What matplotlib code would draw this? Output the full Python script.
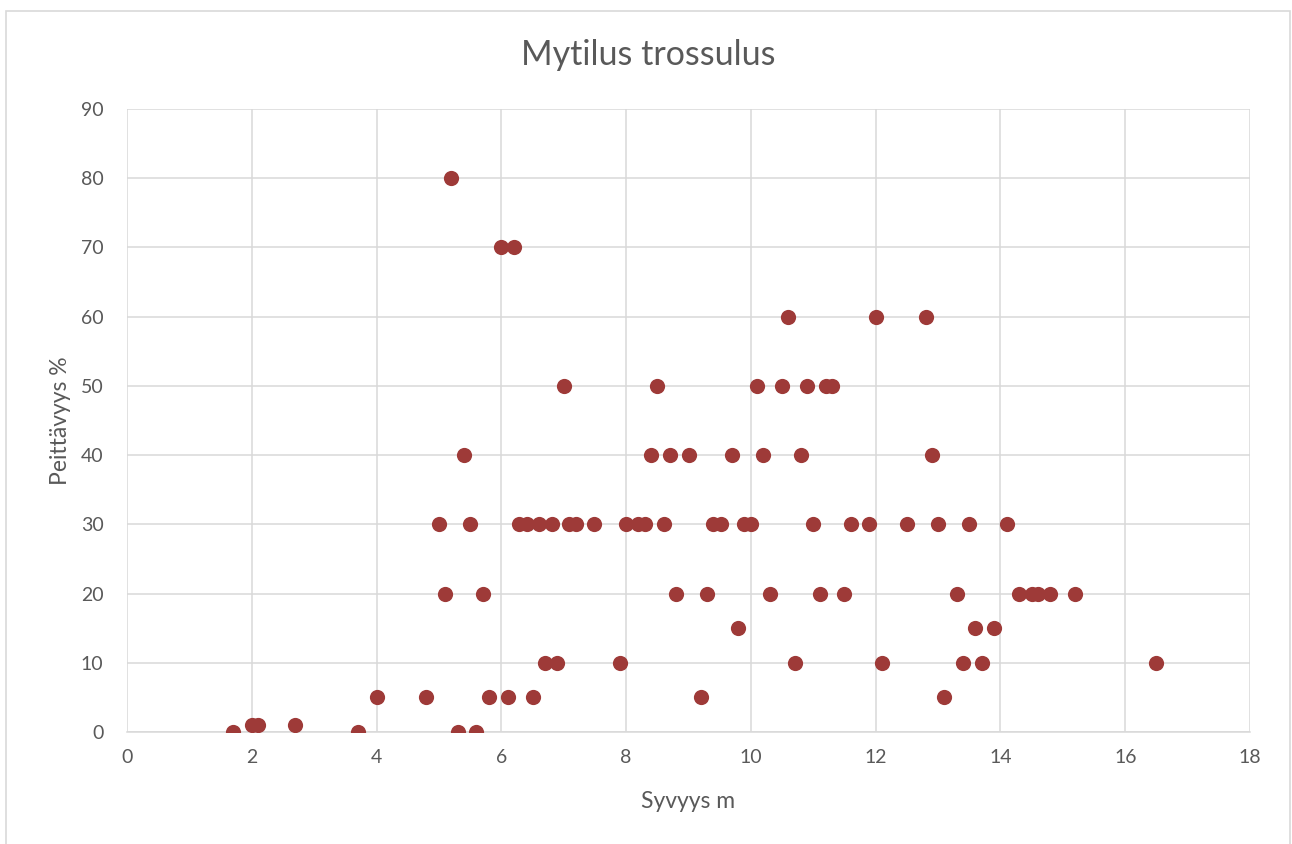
import matplotlib.pyplot as plt
from matplotlib.patches import Rectangle

# Syvyys (m) and Peittävyys (%), grouped by cover level
depth_0 = [1.7, 3.7, 5.3, 5.6]
depth_1 = [2.0, 2.1, 2.7]
depth_5 = [4.0, 4.8, 5.8, 6.1, 6.5, 9.2, 13.1]
depth_10 = [6.7, 6.9, 7.9, 10.7, 12.1, 13.4, 13.7, 16.5]
depth_15 = [9.8, 13.6, 13.9]
depth_20 = [5.1, 5.7, 8.8, 9.3, 10.3, 11.1, 11.5, 13.3, 14.3, 14.5, 14.6, 14.8, 15.2]
depth_30 = [5.0, 5.5, 6.28, 6.41, 6.6, 6.81, 7.08, 7.2, 7.49, 8.0, 8.19, 8.31, 8.6,
            9.4, 9.52, 9.89, 10.0, 11.0, 11.6, 11.9, 12.5, 13.0, 13.5, 14.1]
depth_40 = [5.4, 8.4, 8.7, 9.0, 9.7, 10.2, 10.8, 12.9]
depth_50 = [7.0, 8.5, 10.1, 10.5, 10.9, 11.2, 11.3]
depth_60 = [10.6, 12.0, 12.8]
depth_70 = [6.0, 6.2]
depth_80 = [5.2]

groups = [(0, depth_0), (1, depth_1), (5, depth_5), (10, depth_10), (15, depth_15),
          (20, depth_20), (30, depth_30), (40, depth_40), (50, depth_50),
          (60, depth_60), (70, depth_70), (80, depth_80)]
x = [d for cov, ds in groups for d in ds]
y = [cov for cov, ds in groups for d in ds]

plt.rcParams['font.family'] = ['Lato', 'DejaVu Sans']
TXT = "#595959"
GRID = "#D9D9D9"

fig = plt.figure(figsize=(12.92, 8.44), dpi=100)
ax = fig.add_axes([127 / 1292, 1 - 732 / 844, 1123 / 1292, 623 / 844])

# chart-area border like the spreadsheet export
fig.patches.append(Rectangle((6 / 1292, -0.01), 1284 / 1292, 1 - 11 / 844 + 0.01,
                             transform=fig.transFigure, fill=False,
                             edgecolor=GRID, linewidth=1.2))

ax.scatter(x, y, s=120, color="#9E3A38", zorder=3, linewidths=0)

ax.set_xlim(0, 18)
ax.set_ylim(0, 90)
ax.set_xticks(range(0, 19, 2))
ax.set_yticks(range(0, 91, 10))
ax.grid(True, color=GRID, linewidth=1.1)
ax.set_axisbelow(True)
for side in ["top", "right", "left"]:
    ax.spines[side].set_visible(False)
ax.spines["bottom"].set_color(GRID)
ax.spines["bottom"].set_linewidth(1.1)
ax.tick_params(length=0, labelsize=14, labelcolor=TXT)
ax.tick_params(axis="x", pad=12)
ax.tick_params(axis="y", pad=17)

fig.text(648 / 1292, 1 - 55 / 844, "Mytilus trossulus", fontsize=24.5, color=TXT,
         ha="center", va="center")
ax.set_xlabel("Syvyys m", fontsize=16.5, color=TXT, labelpad=18)
ax.set_ylabel("Peittävyys %", fontsize=16.5, color=TXT, labelpad=7)

fig.savefig("out.png", dpi=100)
